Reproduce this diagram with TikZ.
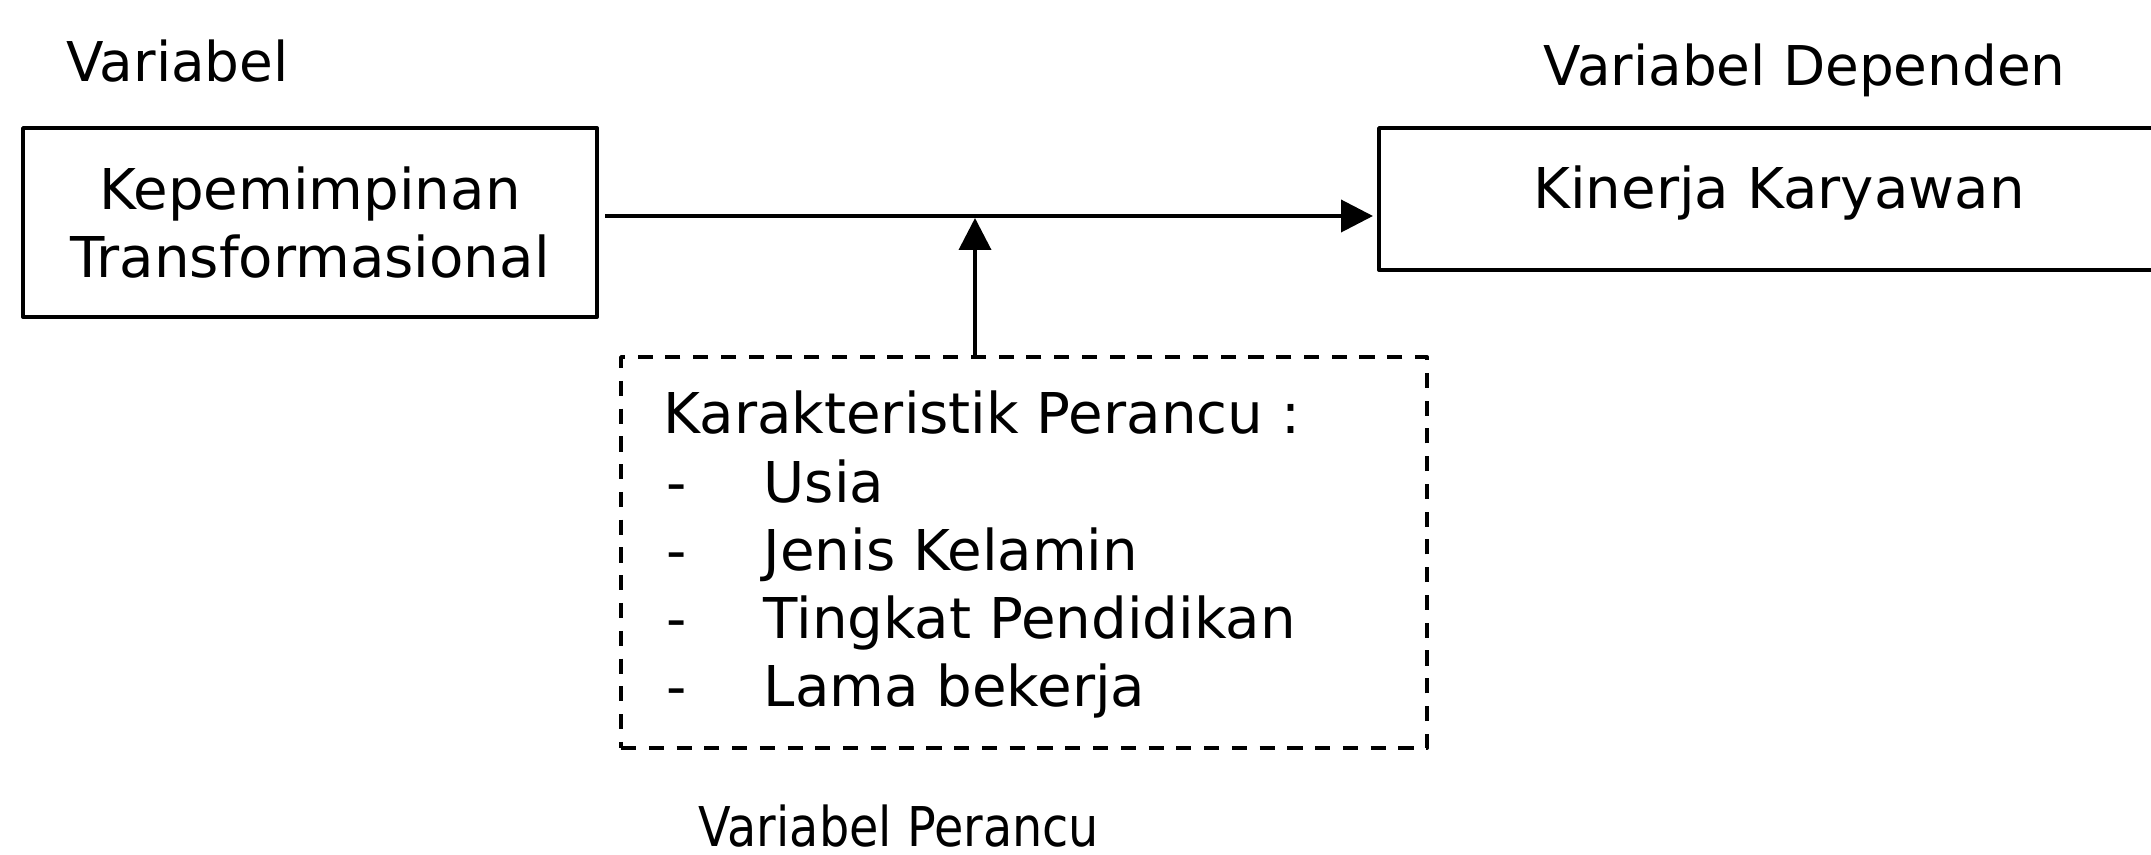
\documentclass[tikz,border=0pt]{standalone}
\usepackage{fontspec}
\setmainfont{DejaVu Sans}
\newfontfamily\sempit[FakeStretch=0.87]{DejaVu Sans}
\usetikzlibrary{arrows.meta}

\begin{document}
\begin{tikzpicture}[line join=round,>={Triangle[length=0.32cm,width=0.32cm]},x=1cm,y=1cm,
  every node/.style={font=\fontsize{16}{19.6}\selectfont,inner sep=0pt},
  judul/.style={font=\fontsize{15.6}{19}\selectfont},
  kotak/.style={draw,line width=1.1pt},
  kotakputus/.style={draw,line width=1.1pt,dash pattern=on 4.3pt off 3.6pt},
  panah/.style={->,line width=1.1pt}]
\clip(0,0) rectangle (21.51,-8.55);
\node[judul,anchor=base west] (lbx) at (0.66,-0.82) {Variabel};
\node[judul,anchor=base west] (lby) at (15.43,-0.86) {Variabel Dependen};
\node[kotak,minimum width=5.74cm,minimum height=1.89cm,align=center] (kt) at (3.10,-2.225) {Kepemimpinan\\Transformasional};
\node[kotak,minimum width=8.0cm,minimum height=1.42cm,text depth=0.24cm] (kk) at (17.79,-1.99) {Kinerja Karyawan};
\node[kotakputus,minimum width=8.06cm,minimum height=3.91cm] (vp) at (10.24,-5.525) {};
\node[anchor=base west] (kar) at (6.63,-4.34) {Karakteristik Perancu :};
\node[anchor=base west] (s1) at (6.66,-5.02) {-};
\node[anchor=base west] (usia) at (7.63,-5.02) {Usia};
\node[anchor=base west] (s2) at (6.66,-5.70) {-};
\node[anchor=base west] (jk) at (7.63,-5.70) {Jenis Kelamin};
\node[anchor=base west] (s3) at (6.66,-6.38) {-};
\node[anchor=base west] (tp) at (7.63,-6.38) {Tingkat Pendidikan};
\node[anchor=base west] (s4) at (6.66,-7.06) {-};
\node[anchor=base west] (lb) at (7.63,-7.06) {Lama bekerja};
\node[judul,anchor=base west,font=\sempit\fontsize{15.6}{19}\selectfont] (lbp) at (6.98,-8.46) {Variabel Perancu};
% panah
\coordinate (ka) at (6.05,-2.16);
\coordinate (kb) at (13.73,-2.16);
\coordinate (pb) at (9.75,-2.18);
\draw[panah] (ka) -- (kb);
\draw[panah] (vp.north -| pb) -- (pb);
\end{tikzpicture}
\end{document}
